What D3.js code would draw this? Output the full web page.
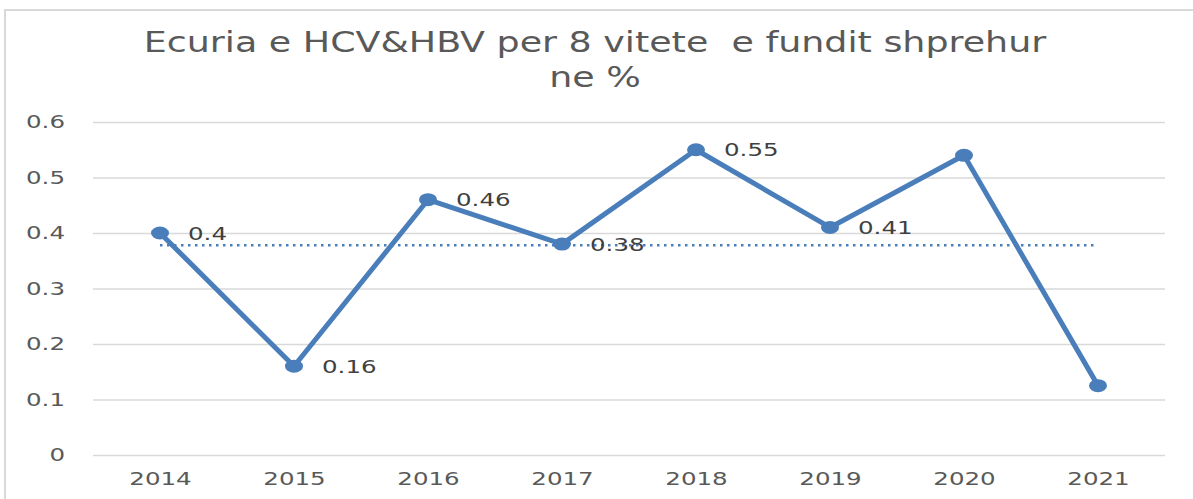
<!DOCTYPE html>
<html>
<head>
<meta charset="utf-8">
<script src="https://cdn.jsdelivr.net/npm/d3@7"></script>
<style>
  body { margin: 0; background: #fff; }
  svg { display: block; }
  text { font-family: "DejaVu Sans", sans-serif; }
</style>
</head>
<body>
<svg id="canvas"></svg>
<script>
const years = ['2014', '2015', '2016', '2017', '2018', '2019', '2020', '2021'];
const values = [0.4, 0.16, 0.46, 0.38, 0.55, 0.41, 0.54, 0.125];
const labels = ['0.4', '0.16', '0.46', '0.38', '0.55', '0.41', '', ''];
const yTicks = [0, 0.1, 0.2, 0.3, 0.4, 0.5, 0.6];
const yTickLabels = ['0', '0.1', '0.2', '0.3', '0.4', '0.5', '0.6'];
const titleLines = ['Ecuria e HCV&HBV per 8 vitete  e fundit shprehur', 'ne %'];

const width = 1193;
const height = 499;
const stretch = 1.4; // picture is stretched sideways
const blue = '#4a7ebb';

let canvas = d3.select('#canvas').attr('width', width).attr('height', height);

// chart border
canvas.append('rect')
  .attr('x', 5).attr('y', 10)
  .attr('width', 1200).attr('height', 520)
  .attr('fill', 'none').attr('stroke', '#d9d9d9').attr('stroke-width', 2);

let xScale = d3.scalePoint().domain(years).range([93, 1165]).padding(0.5);
let yScale = d3.scaleLinear().domain([0, 0.6]).range([455, 122]);

// stretch text sideways like the picture
let widen = (sel, k) => {
  sel.each(function () {
    let w = this.getComputedTextLength();
    if (w > 0) {
      d3.select(this).attr('textLength', w * k).attr('lengthAdjust', 'spacingAndGlyphs');
    }
  });
};

// title
canvas.selectAll('.title')
  .data(titleLines)
  .enter()
  .append('text')
  .attr('class', 'title')
  .attr('x', 595)
  .attr('y', (d, i) => 52 + i * 35)
  .attr('text-anchor', 'middle')
  .attr('font-family', '"Open Sans", sans-serif')
  .attr('font-size', 28)
  .attr('fill', '#595959')
  .attr('xml:space', 'preserve')
  .text(d => d)
  .call(widen, 1.3);

// grid
let yAxis = d3.axisLeft(yScale)
  .tickValues(yTicks)
  .tickSize(-(1165 - 93))
  .tickPadding(28)
  .tickFormat((d, i) => yTickLabels[i]);

let gy = canvas.append('g').attr('transform', 'translate(93,0)').call(yAxis);
gy.select('.domain').remove();
gy.selectAll('.tick line').attr('stroke', '#d9d9d9').attr('stroke-width', 1.5);
gy.selectAll('.tick text')
  .attr('font-size', 17.5)
  .attr('fill', '#595959')
  .attr('font-family', '"DejaVu Sans", sans-serif')
  .call(widen, stretch);

// x axis labels
let xAxis = d3.axisBottom(xScale).tickSize(0).tickPadding(18);
let gx = canvas.append('g').attr('transform', 'translate(0,455)').call(xAxis);
gx.select('.domain').remove();
gx.selectAll('.tick text')
  .attr('font-size', 17.5)
  .attr('fill', '#595959')
  .attr('font-family', '"DejaVu Sans", sans-serif')
  .call(widen, stretch);

// average line
let avg = d3.mean(values);
canvas.append('line')
  .attr('x1', xScale(years[0]))
  .attr('x2', xScale(years[years.length - 1]) - 3)
  .attr('y1', yScale(avg))
  .attr('y2', yScale(avg))
  .attr('stroke', blue)
  .attr('stroke-width', 2.5)
  .attr('stroke-dasharray', '2.5,4.5');

// series line
let line = d3.line()
  .x((d, i) => xScale(years[i]))
  .y(d => yScale(d));

canvas.append('path')
  .datum(values)
  .attr('d', line)
  .attr('fill', 'none')
  .attr('stroke', blue)
  .attr('stroke-width', 5)
  .attr('stroke-linejoin', 'round');

canvas.selectAll('.dot')
  .data(values)
  .enter()
  .append('ellipse')
  .attr('class', 'dot')
  .attr('cx', (d, i) => xScale(years[i]))
  .attr('cy', d => yScale(d))
  .attr('rx', 9)
  .attr('ry', 6.5)
  .attr('fill', blue);

// data labels
canvas.selectAll('.lbl')
  .data(values)
  .enter()
  .append('text')
  .attr('class', 'lbl')
  .attr('x', (d, i) => xScale(years[i]) + 28)
  .attr('y', d => yScale(d) + 6.5)
  .attr('font-size', 17.5)
  .attr('fill', '#404040')
  .text((d, i) => labels[i])
  .call(widen, stretch);
</script>
</body>
</html>
